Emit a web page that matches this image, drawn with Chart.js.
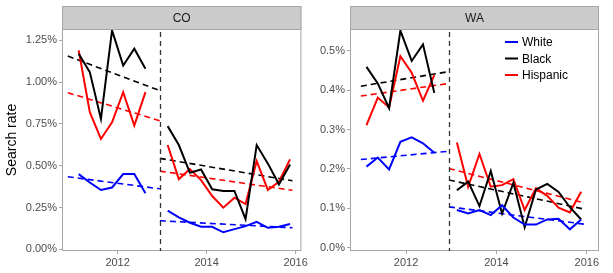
<!DOCTYPE html>
<html>
<head>
<meta charset="utf-8">
<script src="https://cdn.jsdelivr.net/npm/chart.js@4.4.1/dist/chart.umd.min.js"></script>
<style>
  body { margin:0; background:#fff; }
  #wrap { position:relative; width:613px; height:273px; }
  canvas { position:absolute; top:0; }
  #co { left:0; }
  #wa { left:306px; }
</style>
</head>
<body>
<div id="wrap">
  <canvas id="co" width="310" height="273"></canvas>
  <canvas id="wa" width="307" height="273"></canvas>
</div>
<script>
// quarters (decimal year, mid quarter)
const quartersPre = [2011.125, 2011.375, 2011.625, 2011.875, 2012.125, 2012.375, 2012.625];
const quartersPost = [2013.125, 2013.375, 2013.625, 2013.875, 2014.125, 2014.375, 2014.625, 2014.875, 2015.125, 2015.375, 2015.625, 2015.875];
const xTicks = [2012, 2014, 2016];
const cutoff = 2012.95;

// CO search rates (%)
const coWhitePre = [0.45, 0.40, 0.355, 0.37, 0.45, 0.45, 0.335];
const coBlackPre = [1.17, 1.06, 0.78, 1.31, 1.10, 1.20, 1.08];
const coHispPre  = [1.19, 0.82, 0.66, 0.76, 0.94, 0.74, 0.94];
const coWhitePost = [0.231, 0.191, 0.159, 0.135, 0.135, 0.102, 0.121, 0.139, 0.165, 0.129, 0.135, 0.151];
const coBlackPost = [0.737, 0.624, 0.458, 0.478, 0.359, 0.349, 0.349, 0.181, 0.624, 0.514, 0.389, 0.508];
const coHispPost  = [0.624, 0.420, 0.480, 0.414, 0.319, 0.249, 0.309, 0.271, 0.528, 0.355, 0.404, 0.538];
// CO trend lines (start, end)
const coTrendPreX = [2010.88, cutoff];
const coTrendPostX = [cutoff, 2015.93];
const coWhiteTrendPre = [0.434, 0.362];
const coBlackTrendPre = [1.156, 0.949];
const coHispTrendPre  = [0.937, 0.769];
const coWhiteTrendPost = [0.171, 0.129];
const coBlackTrendPost = [0.544, 0.410];
const coHispTrendPost  = [0.468, 0.353];
const coYTicks = [0, 0.25, 0.5, 0.75, 1.0, 1.25];

// WA search rates (%)
const waWhitePre = [0.206, 0.229, 0.199, 0.269, 0.280, 0.265, 0.241];
const waBlackPre = [0.459, 0.417, 0.354, 0.551, 0.474, 0.516, 0.393];
const waHispPre  = [0.311, 0.381, 0.356, 0.486, 0.444, 0.373, 0.438];
const waWhitePost = [0.096, 0.087, 0.096, 0.083, 0.108, 0.077, 0.059, 0.059, 0.072, 0.074, 0.047, 0.072];
const waBlackPost = [0.146, 0.168, 0.106, 0.195, 0.087, 0.165, 0.052, 0.148, 0.162, 0.142, 0.103, 0.072];
const waHispPost  = [0.267, 0.155, 0.238, 0.155, 0.159, 0.174, 0.096, 0.151, 0.132, 0.102, 0.090, 0.142];
const waTrendPreX = [2011.0, cutoff];
const waTrendPostX = [cutoff, 2015.95];
const waWhiteTrendPre = [0.224, 0.245];
const waBlackTrendPre = [0.410, 0.447];
const waHispTrendPre  = [0.385, 0.417];
const waWhiteTrendPost = [0.104, 0.060];
const waBlackTrendPost = [0.172, 0.098];
const waHispTrendPost  = [0.201, 0.114];
const waYTicks = [0, 0.1, 0.2, 0.3, 0.4, 0.5];

const groups = ['White', 'Black', 'Hispanic'];
const colors = ['#0000ff', '#000000', '#ff0000'];
const FONT = "'Liberation Sans', Arial, sans-serif";

function pts(xs, ys) {
  return xs.map((x, i) => ({x: x, y: ys[i]}));
}

function series(xs, ys, color) {
  return { data: pts(xs, ys), borderColor: color, borderWidth: 2, showLine: true, pointRadius: 0, tension: 0 };
}

function trend(xs, ys, color) {
  return { data: pts(xs, ys), borderColor: color, borderWidth: 1.6, borderDash: [6, 4], showLine: true, pointRadius: 0 };
}

// strip, panel border, cutoff line, legend
const panelPlugin = {
  id: 'panel',
  afterDraw(chart, args, opts) {
    const ctx = chart.ctx;
    const a = chart.chartArea;
    ctx.save();
    // strip
    ctx.fillStyle = '#cccccc';
    ctx.fillRect(a.left, 6, a.right - a.left, a.top - 6);
    ctx.strokeStyle = '#a6a6a6';
    ctx.lineWidth = 1;
    ctx.strokeRect(a.left + 0.5, 6.5, a.right - a.left - 1, a.top - 6);
    ctx.fillStyle = '#1a1a1a';
    ctx.font = '12px ' + FONT;
    ctx.textAlign = 'center';
    ctx.textBaseline = 'middle';
    ctx.fillText(opts.label, (a.left + a.right) / 2, (a.top + 6) / 2 + 1);
    // panel border
    ctx.strokeRect(a.left + 0.5, a.top + 0.5, a.right - a.left - 1, a.bottom - a.top - 1);
    // cutoff line
    const xc = Math.round(chart.scales.x.getPixelForValue(cutoff)) + 0.5;
    ctx.strokeStyle = '#333333';
    ctx.lineWidth = 1.3;
    ctx.setLineDash([5, 4]);
    ctx.beginPath();
    ctx.moveTo(xc, a.top + 3);
    ctx.lineTo(xc, a.bottom);
    ctx.stroke();
    ctx.setLineDash([]);
    // legend
    if (opts.legend) {
      ctx.font = '12px ' + FONT;
      ctx.textAlign = 'left';
      groups.forEach((g, i) => {
        const y = 42 + i * 16.5;
        ctx.strokeStyle = colors[i];
        ctx.lineWidth = 2;
        ctx.beginPath();
        ctx.moveTo(199, y);
        ctx.lineTo(212, y);
        ctx.stroke();
        ctx.fillStyle = '#000';
        ctx.fillText(g, 216, y + 1);
      });
    }
    ctx.restore();
  }
};

function makePanel(id, cfg) {
  return new Chart(document.getElementById(id), {
    type: 'scatter',
    data: { datasets: cfg.datasets },
    options: {
      responsive: false,
      animation: false,
      devicePixelRatio: 1,
      layout: { padding: { top: 29, right: cfg.padRight, left: 0, bottom: 0 } },
      plugins: {
        legend: { display: false },
        tooltip: { enabled: false },
        panel: { label: cfg.label, legend: cfg.legend }
      },
      scales: {
        x: {
          type: 'linear',
          min: cfg.xMin, max: cfg.xMax,
          afterBuildTicks: s => { s.ticks = xTicks.map(v => ({value: v})); },
          afterFit: s => { s.height = 22; },
          grid: { drawOnChartArea: false, drawTicks: true, tickLength: 3, color: '#a6a6a6' },
          border: { display: false },
          ticks: { padding: 2, color: '#4d4d4d', font: { family: FONT, size: 11 }, maxRotation: 0, callback: v => String(v) }
        },
        y: {
          type: 'linear',
          min: cfg.yMin, max: cfg.yMax,
          afterBuildTicks: s => { s.ticks = cfg.yTicks.map(v => ({value: v})); },
          afterFit: s => { s.width = cfg.yWidth; },
          grid: { drawOnChartArea: false, drawTicks: true, tickLength: 3, color: '#a6a6a6' },
          border: { display: false },
          title: { display: cfg.title, text: 'Search rate', color: '#000', font: { family: FONT, size: 14 }, padding: { top: 4, bottom: 0 } },
          ticks: { padding: 2, color: '#4d4d4d', font: { family: FONT, size: 11 }, callback: v => v.toFixed(cfg.dec) + '%' }
        }
      }
    },
    plugins: [panelPlugin]
  });
}

makePanel('co', {
  label: 'CO', legend: false, title: true, dec: 2,
  xMin: 2010.75, xMax: 2016.13, yMin: -0.01, yMax: 1.318, yTicks: coYTicks,
  yWidth: 62, padRight: 6,
  datasets: [
    series(quartersPre, coWhitePre, colors[0]),
    series(quartersPre, coBlackPre, colors[1]),
    series(quartersPre, coHispPre, colors[2]),
    series(quartersPost, coWhitePost, colors[0]),
    series(quartersPost, coBlackPost, colors[1]),
    series(quartersPost, coHispPost, colors[2]),
    trend(coTrendPreX, coWhiteTrendPre, colors[0]),
    trend(coTrendPreX, coBlackTrendPre, colors[1]),
    trend(coTrendPreX, coHispTrendPre, colors[2]),
    trend(coTrendPostX, coWhiteTrendPost, colors[0]),
    trend(coTrendPostX, coBlackTrendPost, colors[1]),
    trend(coTrendPostX, coHispTrendPost, colors[2])
  ]
});

makePanel('wa', {
  label: 'WA', legend: true, title: false, dec: 1,
  xMin: 2010.76, xMax: 2016.27, yMin: -0.008, yMax: 0.555, yTicks: waYTicks,
  yWidth: 44, padRight: 14,
  datasets: [
    series(quartersPre, waWhitePre, colors[0]),
    series(quartersPre, waBlackPre, colors[1]),
    series(quartersPre, waHispPre, colors[2]),
    series(quartersPost, waWhitePost, colors[0]),
    series(quartersPost, waBlackPost, colors[1]),
    series(quartersPost, waHispPost, colors[2]),
    trend(waTrendPreX, waWhiteTrendPre, colors[0]),
    trend(waTrendPreX, waBlackTrendPre, colors[1]),
    trend(waTrendPreX, waHispTrendPre, colors[2]),
    trend(waTrendPostX, waWhiteTrendPost, colors[0]),
    trend(waTrendPostX, waBlackTrendPost, colors[1]),
    trend(waTrendPostX, waHispTrendPost, colors[2])
  ]
});
</script>
</body>
</html>
